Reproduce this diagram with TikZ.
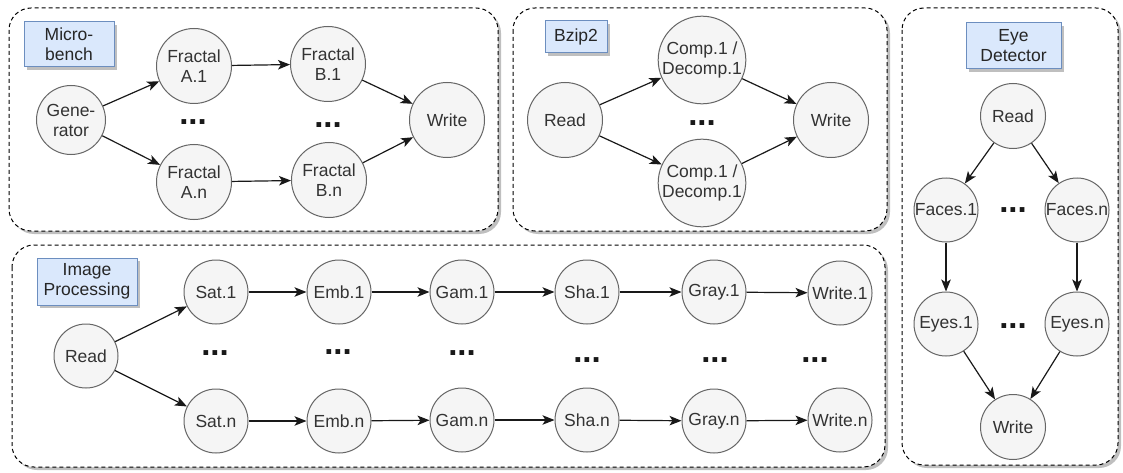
\documentclass[tikz,border=0pt]{standalone}
\usepackage{fontspec}
\setmainfont{Liberation Sans}
\usetikzlibrary{arrows.meta,shadows}
\definecolor{nodefill}{HTML}{F5F5F5}
\definecolor{nodeline}{HTML}{666666}
\definecolor{lblfill}{HTML}{DAE8FC}
\definecolor{lblline}{HTML}{6C8EBF}
\definecolor{txt}{HTML}{333333}
\begin{document}
\begin{tikzpicture}[x=1pt,y=-1pt,
  proc/.style={circle, draw=nodeline, fill=nodefill, line width=1pt, inner sep=0pt,
    text=txt, align=center, font=\fontsize{17.5}{20}\selectfont},
  rbig/.style={minimum size=75pt},
  rmid/.style={minimum size=69pt},
  rsmall/.style={minimum size=64pt},
  lbl/.style={draw=lblline, fill=lblfill, line width=1pt, align=center, inner sep=0pt,
    text=black!85, font=\fontsize{17.5}{20}\selectfont,
    drop shadow={shadow xshift=3pt, shadow yshift=-3pt, fill=black, opacity=0.25}},
  arr/.style={-{Stealth[length=12pt,width=9.5pt,inset=3pt]}, line width=1.2pt, draw=black!90},
  grp/.style={draw=black, dash pattern=on 4pt off 3pt, rounded corners=22pt, line width=1pt, fill=white,
    drop shadow={shadow xshift=3pt, shadow yshift=-3pt, fill=black, opacity=0.25}},
  dotsn/.style={inner sep=0pt, text=black!90, font=\fontsize{33}{33}\bfseries\selectfont}
]
\useasboundingbox (0,0) rectangle (1123,473);

% group boxes
\path[grp] (9,8) rectangle (498,231);
\path[grp] (513,8) rectangle (887,231);
\path[grp] (12,245) rectangle (885,467);
\path[grp] (902,8) rectangle (1118,465);

% labels
\node[lbl, minimum width=90pt, minimum height=45pt] (lmb) at (69,44.5) {Micro-\\bench};
\node[lbl, minimum width=62pt, minimum height=32pt] (lbz) at (576,37) {Bzip2};
\node[lbl, minimum width=100pt, minimum height=47pt] (lip) at (87,281.5) {Image\\Processing};
\node[lbl, minimum width=95pt, minimum height=46pt] (led) at (1013.5,46) {Eye\\Detector};

% Micro-bench
\node[proc, rmid] (gen) at (71,120) {Gene-\\rator};
\node[proc, rbig] (fa1) at (194,66) {Fractal\\A.1};
\node[proc, rbig] (fan) at (194,182) {Fractal\\A.n};
\node[proc, rbig] (fb1) at (328,64) {Fractal\\B.1};
\node[proc, rbig] (fbn) at (329,180) {Fractal\\B.n};
\node[proc, rbig] (mbw) at (447,120) {Write};
\node[dotsn] (mbd1) at (193,122) {...};
\node[dotsn] (mbd2) at (328,125) {...};
\draw[arr] (gen) -- (fa1);
\draw[arr] (gen) -- (fan);
\draw[arr] (fa1) -- (fb1);
\draw[arr] (fan) -- (fbn);
\draw[arr] (fb1) -- (mbw);
\draw[arr] (fbn) -- (mbw);

% Bzip2
\node[proc, rbig] (bzr) at (565,120) {Read};
\node[proc, rbig, minimum size=78pt] (bc1) at (702,60) {Comp.1 /\\Decomp.1};
\node[proc, rbig, minimum size=78pt] (bcn) at (702,183) {Comp.1 /\\Decomp.1};
\node[proc, rbig] (bzw) at (831,120) {Write};
\node[dotsn] (bzd) at (702,123) {...};
\draw[arr] (bzr) -- (bc1);
\draw[arr] (bzr) -- (bcn);
\draw[arr] (bc1) -- (bzw);
\draw[arr] (bcn) -- (bzw);

% Image Processing
\node[proc, rsmall] (ipr) at (86,356) {Read};
\node[proc, rsmall] (sat1) at (216,292) {Sat.1};
\node[proc, rsmall] (satn) at (216,421) {Sat.n};
\node[proc, rsmall] (emb1) at (339,292) {Emb.1};
\node[proc, rsmall] (embn) at (339,421) {Emb.n};
\node[proc, rsmall] (gam1) at (462,292) {Gam.1};
\node[proc, rsmall] (gamn) at (462,420) {Gam.n};
\node[proc, rsmall] (sha1) at (587,292) {Sha.1};
\node[proc, rsmall] (shan) at (587,420) {Sha.n};
\node[proc, rsmall] (gry1) at (714,292) {Gray.1};
\node[proc, rsmall] (gryn) at (714,421) {Gray.n};
\node[proc, rsmall] (wr1) at (840,293) {Write.1};
\node[proc, rsmall] (wrn) at (840,420) {Write.n};
\node[dotsn] (ipd1) at (215,353) {...};
\node[dotsn] (ipd2) at (338,352) {...};
\node[dotsn] (ipd3) at (462,353) {...};
\node[dotsn] (ipd4) at (587,360) {...};
\node[dotsn] (ipd5) at (715,360) {...};
\node[dotsn] (ipd6) at (815,360) {...};
\draw[arr] (ipr) -- (sat1);
\draw[arr] (ipr) -- (satn);
\draw[arr] (sat1) -- (emb1);
\draw[arr] (emb1) -- (gam1);
\draw[arr] (gam1) -- (sha1);
\draw[arr] (sha1) -- (gry1);
\draw[arr] (gry1) -- (wr1);
\draw[arr] (satn) -- (embn);
\draw[arr] (embn) -- (gamn);
\draw[arr] (gamn) -- (shan);
\draw[arr] (shan) -- (gryn);
\draw[arr] (gryn) -- (wrn);

% Eye Detector
\node[proc, rsmall, minimum size=65pt] (edr) at (1013,116) {Read};
\node[proc, rsmall] (f1) at (946,210) {Faces.1};
\node[proc, rsmall] (fn) at (1077,210) {Faces.n};
\node[proc, rsmall] (e1) at (946,324) {Eyes.1};
\node[proc, rsmall] (en) at (1077,324) {Eyes.n};
\node[proc, rsmall, minimum size=65pt] (edw) at (1013,427) {Write};
\node[dotsn] (edd1) at (1013,210) {...};
\node[dotsn] (edd2) at (1013,326) {...};
\draw[arr] (edr) -- (f1);
\draw[arr] (edr) -- (fn);
\draw[arr] (f1) -- (e1);
\draw[arr] (fn) -- (en);
\draw[arr] (e1) -- (edw);
\draw[arr] (en) -- (edw);
\end{tikzpicture}
\end{document}
